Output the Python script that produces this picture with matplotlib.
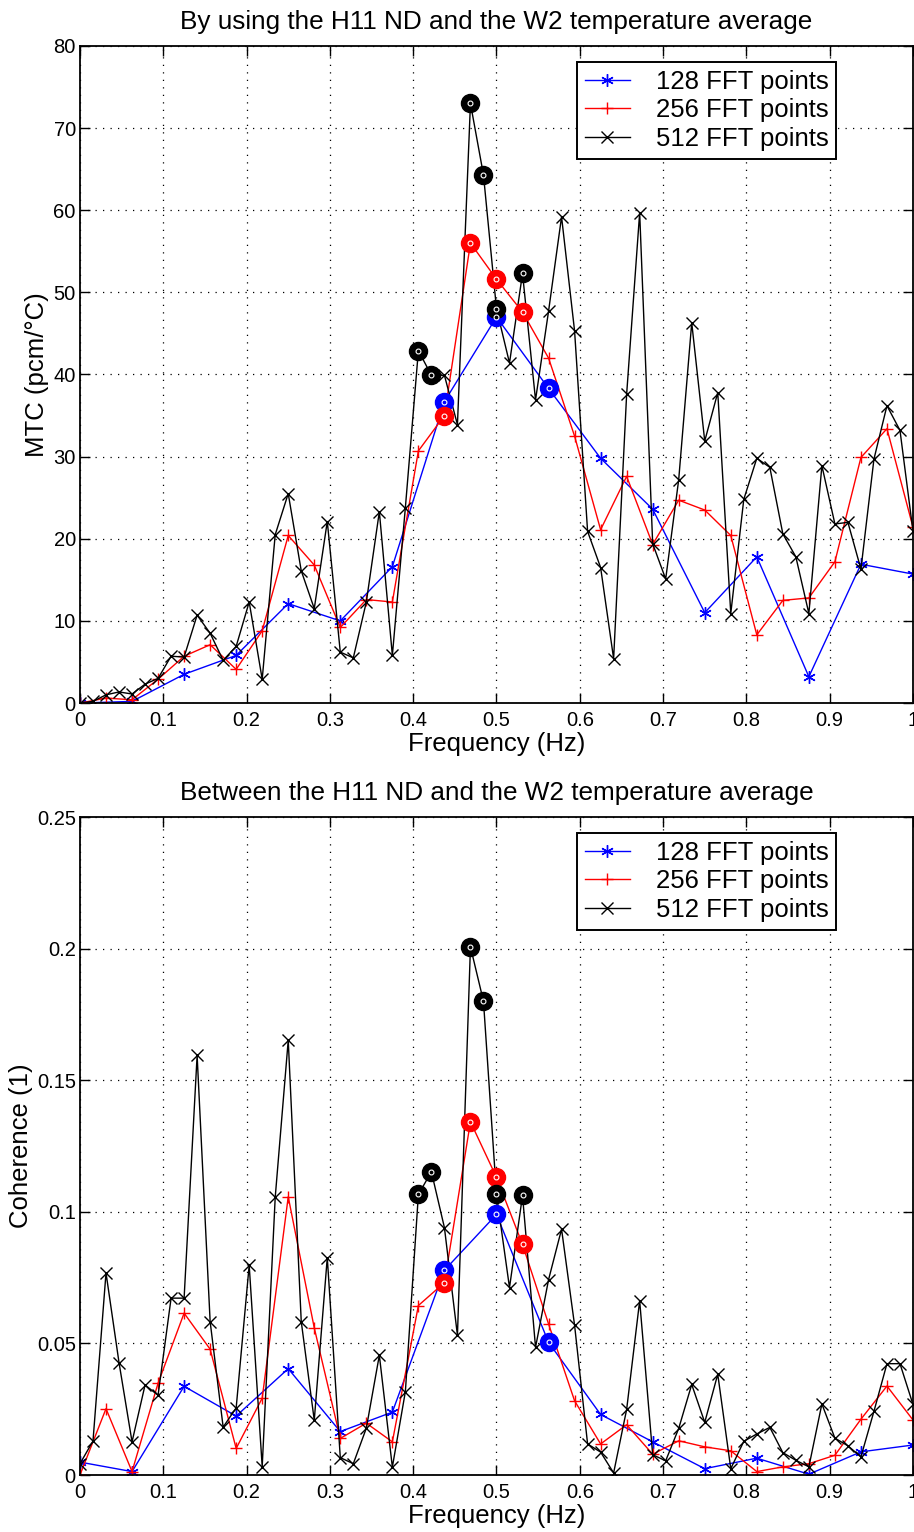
import numpy as np
import matplotlib
matplotlib.use('Agg')
import matplotlib.pyplot as plt
from matplotlib.ticker import MultipleLocator, FuncFormatter

plt.rcParams['font.family'] = ['Liberation Sans', 'DejaVu Sans']

# ─── DATA ─────────────────────────────────────────────────────────────────────
# frequency bins (Hz) for each FFT length
FREQ_128 = np.arange(17) * 0.0625
FREQ_256 = np.arange(33) * 0.03125
FREQ_512 = np.arange(65) * 0.015625

# MTC (pcm/°C)
MTC_128 = [0.0, 0.2, 3.5, 5.8, 12.1, 10.0, 16.6, 36.7, 47.0, 38.3,
           29.8, 23.6, 11.0, 17.8, 3.2, 16.9, 15.7]
MTC_256 = [0.0, 0.6, 0.4, 2.9, 5.7, 7.1, 4.1, 8.8, 20.4, 16.8, 9.2,
           12.6, 12.3, 30.7, 35.0, 56.0, 51.6, 47.6, 42.0, 32.5, 21.1,
           27.6, 19.3, 24.7, 23.5, 20.4, 8.3, 12.5, 12.8, 17.2, 29.9,
           33.4, 21.4]
MTC_512 = [0.0, 0.2, 1.0, 1.35, 1.1, 2.3, 3.0, 5.7, 5.6, 10.7, 8.5,
           5.2, 6.9, 12.3, 2.9, 20.5, 25.5, 16.1, 11.5, 22.1, 6.2, 5.5,
           12.3, 23.3, 5.8, 23.8, 42.9, 39.9, 39.9, 33.9, 73.0, 64.3,
           48.0, 41.4, 52.3, 36.9, 47.7, 59.2, 45.3, 20.9, 16.5, 5.4,
           37.6, 59.7, 19.4, 15.1, 27.2, 46.3, 31.9, 37.8, 10.9, 24.8,
           29.8, 28.7, 20.6, 17.8, 10.9, 28.9, 21.8, 22.0, 16.3, 29.7,
           36.2, 33.2, 20.9]

# Coherence (1)
COH_128 = [0.0049, 0.0013, 0.0337, 0.0224, 0.0404, 0.0165, 0.0239,
           0.0778, 0.0990, 0.0504, 0.0230, 0.0126, 0.0024, 0.0064,
           0.0003, 0.0088, 0.0114]
COH_256 = [0.0, 0.0252, 0.0013, 0.0349, 0.0615, 0.0478, 0.0101, 0.0292,
           0.1057, 0.0559, 0.0139, 0.0197, 0.0126, 0.0644, 0.0731,
           0.1342, 0.1131, 0.0876, 0.0574, 0.0282, 0.0118, 0.0191,
           0.0079, 0.0130, 0.0107, 0.0092, 0.0013, 0.0031, 0.0043,
           0.0075, 0.0212, 0.0338, 0.0209]
COH_512 = [0.0043, 0.0129, 0.0768, 0.0427, 0.0126, 0.0342, 0.0303,
           0.0672, 0.0672, 0.1594, 0.0583, 0.0182, 0.0255, 0.0797,
           0.0032, 0.1055, 0.1652, 0.0583, 0.0208, 0.0826, 0.0066,
           0.0043, 0.0178, 0.0455, 0.0030, 0.0317, 0.1066, 0.1152,
           0.0940, 0.0531, 0.2007, 0.1800, 0.1066, 0.0712, 0.1062,
           0.0485, 0.0742, 0.0934, 0.0569, 0.0118, 0.0087, 0.0008,
           0.0249, 0.0662, 0.0077, 0.0054, 0.0177, 0.0344, 0.0200,
           0.0383, 0.0024, 0.0128, 0.0156, 0.0181, 0.0085, 0.0056,
           0.0031, 0.0270, 0.0140, 0.0111, 0.0069, 0.0242, 0.0423,
           0.0423, 0.0268]

# indices of the highlighted (circled) points in each series
HI_128 = [7, 8, 9]
HI_256 = [14, 15, 16, 17]
HI_512 = [26, 27, 30, 31, 32, 34]

LABELS = ['128 FFT points', '256 FFT points', '512 FFT points']
COLORS = ['#0000ff', '#ff0000', '#000000']
MARKERS = [(6, 2, 0), '+', 'x']   # matlab-ish asterisk, plus, cross
# ──────────────────────────────────────────────────────────────────────────────


def tick_fmt(v, pos):
    return f'{v:.2f}'.rstrip('0').rstrip('.')


def draw(ax, series, ylim, ystep, ylabel, title):
    freqs = [FREQ_128, FREQ_256, FREQ_512]
    hi = [HI_128, HI_256, HI_512]
    for f, y, c, m, lab in zip(freqs, series, COLORS, MARKERS, LABELS):
        ax.plot(f, y, color=c, lw=1.0, marker=m, ms=9, mew=1.0, label=lab)
    # big filled circles on the highlighted points
    for f, y, c, idx in zip(freqs, series, COLORS, hi):
        f = np.asarray(f)[idx]
        y = np.asarray(y)[idx]
        ax.plot(f, y, ls='none', marker='o', mfc=c, mec=c, ms=13, zorder=5)
        ax.plot(f, y, ls='none', marker='o', mfc='none', mec='white',
                ms=3.5, mew=0.8, zorder=6)

    ax.set_xlim(0, 1)
    ax.set_ylim(*ylim)
    ax.xaxis.set_major_locator(MultipleLocator(0.1))
    ax.yaxis.set_major_locator(MultipleLocator(ystep))
    ax.xaxis.set_major_formatter(FuncFormatter(tick_fmt))
    ax.yaxis.set_major_formatter(FuncFormatter(tick_fmt))
    ax.tick_params(direction='in', top=True, right=True, length=7,
                   width=1.0, labelsize=14.5)
    ax.tick_params(axis='x', pad=6)
    ax.tick_params(axis='y', pad=3)
    ax.grid(True, color='black', ls=(0, (1, 5)), lw=0.9)
    for s in ax.spines.values():
        s.set_linewidth(1.3)
    ax.set_xlabel('Frequency (Hz)', fontsize=18.5, labelpad=1)
    ax.set_ylabel(ylabel, fontsize=18.5, labelpad=3)
    ax.set_title(title, fontsize=18.8, pad=12)
    leg = ax.legend(loc='upper right', bbox_to_anchor=(0.9076, 0.9756),
                    borderaxespad=0, fancybox=False, framealpha=1,
                    edgecolor='black', fontsize=18.5, handlelength=1.75,
                    handletextpad=1.0, borderpad=0.3, labelspacing=0.18)
    leg.get_frame().set_linewidth(1.4)


def run():
    fig = plt.figure(figsize=(9.14, 15.32), dpi=100)
    ax1 = fig.add_axes([0.0875, 0.5411, 0.9114, 0.4289])
    ax2 = fig.add_axes([0.0875, 0.0372, 0.9114, 0.4295])

    draw(ax1, [MTC_128, MTC_256, MTC_512], (0, 80), 10, 'MTC (pcm/°C)',
         'By using the H11 ND and the W2 temperature average')
    draw(ax2, [COH_128, COH_256, COH_512], (0, 0.25), 0.05, 'Coherence (1)',
         'Between the H11 ND and the W2 temperature average')

    fig.savefig('out.png', dpi=100)


if __name__ == "__main__":
    run()
